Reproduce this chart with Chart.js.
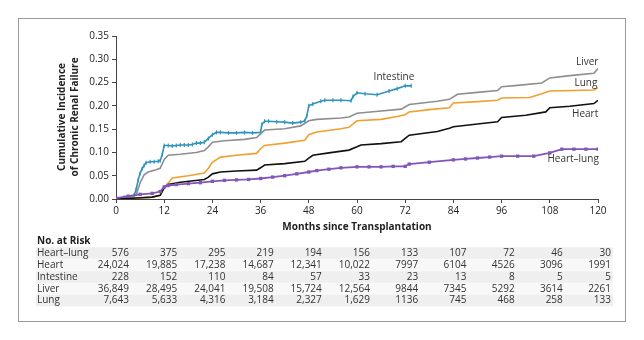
<!DOCTYPE html>
<html>
<head>
<meta charset="utf-8">
<script src="https://cdn.jsdelivr.net/npm/chart.js@4/dist/chart.umd.min.js"></script>
<style>
  html, body { margin: 0; padding: 0; background: #fff; }
  #wrap { width: 644px; height: 340px; position: relative; }
</style>
</head>
<body>
<div id="wrap"><canvas id="renal__chart" width="644" height="340"></canvas></div>
<script>
const tickMonths = [0, 12, 24, 36, 48, 60, 72, 84, 96, 108, 120];

const intestineMonths = [0, 2, 4.5, 5, 5.5, 6, 6.5, 7, 7.5, 8.5, 9.5, 10.5, 11, 11.5, 12, 13, 14, 15, 16, 17, 18, 19, 20, 21, 22, 23, 24, 25, 26, 28, 30, 32, 34, 36, 36.3, 37, 38, 40, 42, 44, 46, 47, 47.5, 48, 49, 51, 52, 54, 56, 58.5, 59, 60, 62, 65, 68, 70, 72, 73.5];
const intestineValues = [0, 0.003, 0.008, 0.02, 0.04, 0.055, 0.065, 0.072, 0.078, 0.08, 0.08, 0.081, 0.082, 0.095, 0.115, 0.115, 0.114, 0.115, 0.116, 0.116, 0.116, 0.117, 0.12, 0.12, 0.122, 0.13, 0.138, 0.143, 0.143, 0.142, 0.142, 0.143, 0.142, 0.143, 0.16, 0.167, 0.167, 0.166, 0.165, 0.163, 0.165, 0.168, 0.178, 0.2, 0.204, 0.21, 0.212, 0.212, 0.212, 0.211, 0.22, 0.228, 0.226, 0.224, 0.232, 0.237, 0.243, 0.243];

const liverMonths = [0, 3, 5, 6, 7, 8, 10, 11, 12, 13, 16, 20, 22, 23, 24, 27, 32, 35, 36, 37, 42, 46, 48, 50, 56, 58, 60, 66, 71, 73, 80, 83, 85, 90, 95, 96, 100, 106, 108, 113, 119, 120];
const liverValues = [0, 0.002, 0.008, 0.035, 0.052, 0.058, 0.063, 0.066, 0.085, 0.094, 0.096, 0.1, 0.104, 0.112, 0.122, 0.125, 0.128, 0.132, 0.14, 0.148, 0.151, 0.157, 0.168, 0.171, 0.174, 0.176, 0.184, 0.189, 0.193, 0.203, 0.21, 0.214, 0.225, 0.229, 0.233, 0.241, 0.244, 0.249, 0.26, 0.265, 0.27, 0.28];

const lungMonths = [0, 6, 9, 11, 12, 13, 14, 18, 22, 23, 24, 26, 30, 35, 36, 37, 42, 47, 48, 50, 56, 58, 60, 66, 70, 72, 73, 78, 83, 84, 90, 95, 96, 103, 106, 108, 114, 119, 120];
const lungValues = [0, 0.002, 0.004, 0.008, 0.025, 0.034, 0.045, 0.05, 0.056, 0.066, 0.079, 0.09, 0.094, 0.098, 0.108, 0.115, 0.12, 0.126, 0.138, 0.144, 0.151, 0.154, 0.168, 0.171, 0.177, 0.181, 0.187, 0.192, 0.196, 0.206, 0.209, 0.212, 0.217, 0.218, 0.226, 0.232, 0.233, 0.234, 0.239];

const heartMonths = [0, 5, 9, 11, 12, 13, 16, 22, 23, 24, 26, 30, 35, 36, 37, 42, 47, 48, 49, 53, 58, 60, 61, 66, 71, 72, 73, 80, 83, 84, 90, 95, 96, 102, 107, 108, 113, 119, 120];
const heartValues = [0, 0.002, 0.004, 0.008, 0.024, 0.031, 0.036, 0.042, 0.047, 0.054, 0.058, 0.06, 0.062, 0.067, 0.073, 0.076, 0.081, 0.088, 0.094, 0.099, 0.105, 0.112, 0.116, 0.119, 0.123, 0.13, 0.137, 0.145, 0.152, 0.155, 0.161, 0.166, 0.175, 0.18, 0.187, 0.196, 0.199, 0.205, 0.212];

const heartLungMonths = [0, 3, 6, 9, 11, 12, 13, 15, 18, 21, 24, 27, 30, 33, 36, 39, 42, 45, 48, 50, 53, 56, 60, 63, 66, 69, 72, 73, 78, 84, 87, 90, 93, 96, 100, 104, 108, 111, 114, 117, 120];
const heartLungValues = [0.002, 0.006, 0.01, 0.012, 0.016, 0.026, 0.029, 0.031, 0.033, 0.035, 0.038, 0.04, 0.041, 0.042, 0.044, 0.047, 0.05, 0.054, 0.058, 0.061, 0.064, 0.067, 0.069, 0.069, 0.069, 0.07, 0.07, 0.075, 0.079, 0.084, 0.086, 0.088, 0.09, 0.092, 0.092, 0.092, 0.099, 0.107, 0.107, 0.107, 0.107];

const riskLabels = ["Heart\u2013lung", "Heart", "Intestine", "Liver", "Lung"];
const riskHeartLung = ["576", "375", "295", "219", "194", "156", "133", "107", "72", "46", "30"];
const riskHeart = ["24,024", "19,885", "17,238", "14,687", "12,341", "10,022", "7997", "6104", "4526", "3096", "1991"];
const riskIntestine = ["228", "152", "110", "84", "57", "33", "23", "13", "8", "5", "5"];
const riskLiver = ["36,849", "28,495", "24,041", "19,508", "15,724", "12,564", "9844", "7345", "5292", "3614", "2261"];
const riskLung = ["7,643", "5,633", "4,316", "3,184", "2,327", "1,629", "1136", "745", "468", "258", "133"];

const FONT = "'Open Sans', 'DejaVu Sans', sans-serif";

function pairs(xs, ys) {
  return xs.map((x, i) => ({ x: x, y: ys[i] }));
}

// series labels placed at (month, value)
const seriesLabels = [
  { text: "Liver", m: 117.3, v: 0.2936 },
  { text: "Lung", m: 117, v: 0.2486 },
  { text: "Heart", m: 116.8, v: 0.182 },
  { text: "Heart\u2013lung", m: 113.8, v: 0.0857 },
  { text: "Intestine", m: 69.2, v: 0.2614 },
];

const decorPlugin = {
  id: 'decor',
  afterDraw(chart) {
    const ctx = chart.ctx;
    const xs = chart.scales.x, ys = chart.scales.y;
    ctx.save();

    // frame
    ctx.strokeStyle = '#9a9a9a';
    ctx.lineWidth = 1;
    ctx.strokeRect(18.5, 18.5, 607, 303);

    // y title
    ctx.fillStyle = '#222';
    ctx.font = "bold 10px " + FONT;
    ctx.textAlign = 'center';
    ctx.textBaseline = 'middle';
    ctx.save();
    ctx.translate(62, 117);
    ctx.rotate(-Math.PI / 2);
    ctx.fillText("Cumulative Incidence", 0, 0);
    ctx.fillText("of Chronic Renal Failure", 0, 13);
    ctx.restore();

    // x title
    ctx.fillText("Months since Transplantation", 357, 227);

    // series labels
    ctx.font = "10px " + FONT;
    ctx.fillStyle = '#333';
    seriesLabels.forEach(l => {
      ctx.fillText(l.text, xs.getPixelForValue(l.m), ys.getPixelForValue(l.v));
    });

    // at-risk table
    const rows = [riskHeartLung, riskHeart, riskIntestine, riskLiver, riskLung];
    const rowY = [253, 265, 277, 289, 300.5];
    rows.forEach((r, i) => {
      ctx.fillStyle = i % 2 === 0 ? '#efefef' : '#f8f8f8';
      ctx.fillRect(36, rowY[i] - 5.8, 577, 11.6);
    });
    ctx.fillStyle = '#222';
    ctx.font = "bold 10px " + FONT;
    ctx.textAlign = 'left';
    ctx.fillText("No. at Risk", 37, 241);
    ctx.font = "10px " + FONT;
    ctx.fillStyle = '#333';
    rows.forEach((r, i) => {
      ctx.textAlign = 'left';
      ctx.fillText(riskLabels[i], 37, rowY[i]);
      ctx.textAlign = 'right';
      r.forEach((val, j) => {
        ctx.fillText(val, xs.getPixelForValue(tickMonths[j]) + 13, rowY[i]);
      });
    });
    ctx.restore();
  }
};

const chartData = {
  datasets: [
    {
      label: "Heart\u2013lung",
      data: pairs(heartLungMonths, heartLungValues),
      borderColor: '#8256b8',
      backgroundColor: '#8256b8',
      borderWidth: 1.8,
      pointStyle: 'rect',
      pointRadius: 1.1,
    },
    {
      label: "Heart",
      data: pairs(heartMonths, heartValues),
      borderColor: '#111111',
      borderWidth: 1.6,
      pointRadius: 0,
    },
    {
      label: "Lung",
      data: pairs(lungMonths, lungValues),
      borderColor: '#f0a030',
      borderWidth: 1.6,
      pointRadius: 0,
    },
    {
      label: "Liver",
      data: pairs(liverMonths, liverValues),
      borderColor: '#8e8e8e',
      borderWidth: 1.6,
      pointRadius: 0,
    },
    {
      label: "Intestine",
      data: pairs(intestineMonths, intestineValues),
      borderColor: '#2f93bf',
      backgroundColor: '#2f93bf',
      borderWidth: 1.6,
      pointStyle: 'line',
      rotation: 90,
      pointRadius: 2,
      pointBorderWidth: 1.2,
    },
  ],
};

const chartOptions = {
  responsive: false,
  animation: false,
  layout: { padding: { left: 0, right: 46, top: 36, bottom: 0 } },
  elements: { line: { tension: 0 } },
  plugins: {
    legend: { display: false },
    tooltip: { enabled: false },
  },
  scales: {
    x: {
      type: 'linear',
      min: 0,
      max: 120,
      afterFit(scale) { scale.height = 141; },
      afterBuildTicks(scale) { scale.ticks = tickMonths.map(v => ({ value: v })); },
      ticks: {
        color: '#222',
        padding: 2,
        font: { size: 10, family: FONT },
      },
      grid: { drawOnChartArea: false, drawTicks: true, tickLength: 4, color: '#444' },
      border: { display: true, color: '#444' },
    },
    y: {
      type: 'linear',
      min: 0,
      max: 0.35,
      afterFit(scale) { scale.width = 116; },
      ticks: {
        stepSize: 0.05,
        color: '#222',
        padding: 3,
        font: { size: 10, family: FONT },
        callback: function (value) { return value.toFixed(2); },
      },
      grid: { drawOnChartArea: false, drawTicks: true, tickLength: 4, color: '#444' },
      border: { display: true, color: '#444' },
    },
  },
};

new Chart(document.getElementById('renal__chart').getContext('2d'), {
  type: 'line',
  data: chartData,
  options: chartOptions,
  plugins: [decorPlugin],
});
</script>
</body>
</html>
